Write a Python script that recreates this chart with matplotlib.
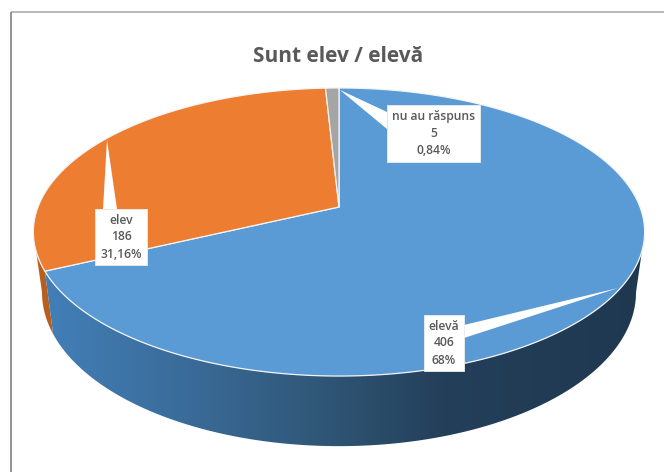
import numpy as np
import matplotlib
matplotlib.use("Agg")
import matplotlib.pyplot as plt
from matplotlib.colors import LinearSegmentedColormap
from matplotlib.patches import Polygon, Rectangle

title = "Sunt elev / elevă"
categories = ["elevă", "elev", "nu au răspuns"]
counts = [406, 186, 5]
percents = ["68%", "31,16%", "0,84%"]
top_colors = ["#5B9BD5", "#ED7D31", "#A5A5A5"]
side_colors = ["#3F74A8", "#B85F20", "#7C7C7C"]

W, H = 664, 472
fig = plt.figure(figsize=(W / 100, H / 100), dpi=100, facecolor="white")
ax = fig.add_axes([0, 0, 1, 1])
ax.set_xlim(0, W)
ax.set_ylim(H, 0)
ax.axis("off")

K = 0.1736
TOP = dict(cx=339.0, cy=207.0, a=301.0, b=139.7)
BOTTOM = dict(cx=339.0, cy=265.6, a=292.5, b=149.2)


def project(theta_deg, plane):
    t = np.radians(theta_deg)
    X, Y = np.cos(t), np.sin(t)
    d = 1 + K * Y
    return plane["cx"] + plane["a"] * X / d, plane["cy"] - plane["b"] * Y / d


# slice angles: start at 12 o'clock, clockwise
vals = np.array(counts, dtype=float)
edges = 90 - np.concatenate([[0], np.cumsum(vals) / vals.sum() * 360])
front_edge = edges[1] + 360  # boundary blue/orange, in the lower half

# --- side walls ---
th = np.linspace(front_edge - 360, -170 - 360 + 360, 40)
th = np.linspace(edges[1] + 360, 190, 40)
ux, uy = project(th, TOP)
lx, ly = project(th, BOTTOM)
ax.add_patch(Polygon(np.c_[np.r_[ux, lx[::-1]], np.r_[uy, ly[::-1]]],
                     closed=True, fc=side_colors[1], ec="none", zorder=2))

th = np.linspace(edges[1] + 360, 350, 240)
ux, uy = project(th, TOP)
lx, ly = project(th, BOTTOM)
wall = Polygon(np.c_[np.r_[ux, lx[::-1]], np.r_[uy, ly[::-1]]],
               closed=True, fc="none", ec="none", transform=ax.transData)
ax.add_patch(wall)
cmap = LinearSegmentedColormap.from_list(
    "wall",
    [(0.0, "#4280B8"), (0.22, "#3B6D9C"), (0.45, "#305878"),
     (0.66, "#243F5A"), (1.0, "#1F3850")])
grad = np.linspace(0, 1, 512).reshape(1, -1)
im = ax.imshow(grad, cmap=cmap, extent=[40, 650, 450, 225], aspect="auto",
               zorder=3, interpolation="bilinear")
im.set_clip_path(wall)
ax.set_xlim(0, W)
ax.set_ylim(H, 0)

# --- top face ---
for i in range(3):
    th = np.linspace(edges[i], edges[i + 1], 300)
    x, y = project(th, TOP)
    xs = np.r_[TOP["cx"], x]
    ys = np.r_[TOP["cy"], y]
    ax.add_patch(Polygon(np.c_[xs, ys], closed=True, fc=top_colors[i],
                         ec="#F4F4F4", lw=0.9, joinstyle="round", zorder=4))

# --- chart border: only top and left are visible ---
ax.plot([11, 664], [12, 12], color="#B9B9B9", lw=1.4, zorder=1, solid_capstyle="butt")
ax.plot([11, 11], [12, 472], color="#808080", lw=1.2, zorder=1, solid_capstyle="butt")

# --- data labels with pointers ---
boxes = [(424, 315, 464, 371), (95, 209, 147, 265), (387, 105, 480, 162)]
pointers = [
    [(618, 288), (464, 325), (464, 338)],
    [(107, 140), (103, 209), (117, 209)],
    [(340, 90), (387, 112), (387, 129)],
]
for cat, n, pct, box, ptr in zip(categories, counts, percents, boxes, pointers):
    ax.add_patch(Polygon(ptr, closed=True, fc="white", ec="none", zorder=5))
    x0, y0, x1, y1 = box
    ax.add_patch(Rectangle((x0, y0), x1 - x0, y1 - y0, fc="white", ec="#EDEDED",
                           lw=0.6, zorder=6))
    cy = (y0 + y1) / 2
    for dy, line in zip((-17, 0, 17), (cat, str(n), pct)):
        ax.text((x0 + x1) / 2, cy + dy, line, ha="center", va="center",
                fontsize=8.7, fontfamily="Open Sans", fontweight="semibold",
                color="#595959", zorder=7)

ax.text(338, 56, title, ha="center", va="center", fontsize=15,
        fontfamily="Open Sans", fontweight="bold", color="#595959", zorder=7)

fig.savefig("out.png", dpi=100)
